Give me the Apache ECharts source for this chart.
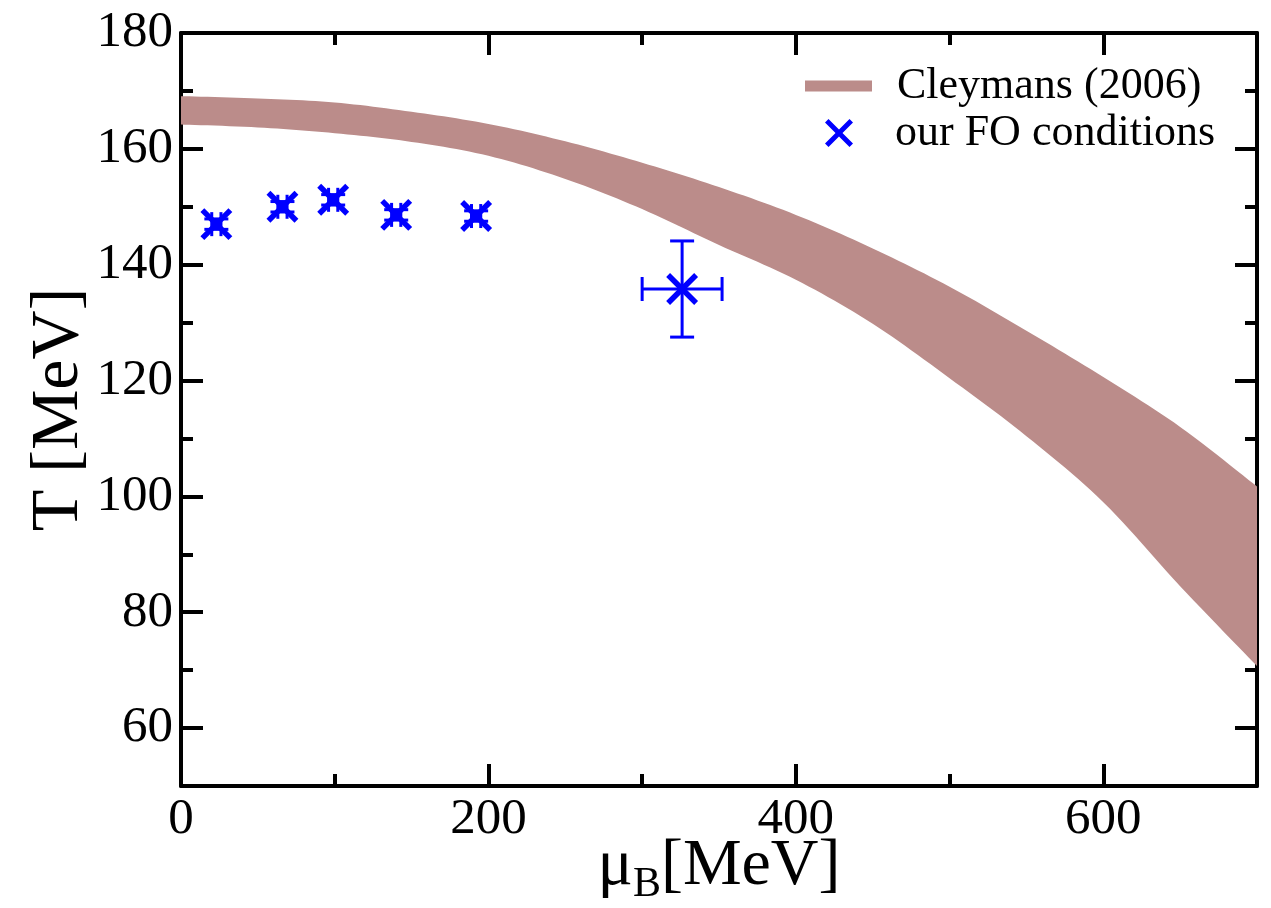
<!DOCTYPE html>
<html>
<head>
<meta charset="utf-8">
<script src="https://cdn.jsdelivr.net/npm/echarts@6/dist/echarts.min.js"></script>
<style>
html,body{margin:0;padding:0;background:#fff;}
#chart{width:1271px;height:908px;}
</style>
</head>
<body>
<div id="chart"></div>
<script>
// ---- data ----
const bandMu    = [0, 50, 100, 150, 200, 250, 300, 350, 400, 450, 500, 550, 600, 650, 700];
const bandUpper = [169.1, 168.7, 168.0, 166.4, 164.3, 161.3, 157.6, 153.4, 148.6, 142.8, 136.2, 128.6, 120.6, 112.0, 101.7];
const bandLower = [164.2, 163.7, 162.7, 161.2, 158.8, 154.8, 149.6, 143.4, 137.4, 129.8, 120.4, 110.4, 99.0, 84.5, 70.7];

const foMu    = [23, 66, 99, 140, 192, 326];
const foT     = [147.0, 150.0, 151.2, 148.6, 148.4, 135.8];
const foMuErr = [3, 3, 3, 3, 3, 26];
const foTErr  = [0.9, 0.9, 0.9, 0.9, 0.9, 8.3];

const xMajorTicks = [0, 200, 400, 600];
const xMinorTicks = [100, 300, 500];
const yMajorTicks = [60, 80, 100, 120, 140, 160, 180];
const yMinorTicks = [50, 70, 90, 110, 130, 150, 170];

const bandName = 'Cleymans (2006)';
const foName = 'our FO conditions';
const bandColor = '#bb8c8a';
const foColor = '#0000ff';
const FONT = "'Liberation Serif', 'Times New Roman', serif";

// ---- axes helpers ----
function xAx(pos, ticks, len, opts) {
  return Object.assign({
    type: 'value', position: pos, min: 0, max: 700, gridIndex: 0,
    axisLine: { show: false, onZero: false },
    axisTick: { show: true, inside: true, length: len, customValues: ticks, lineStyle: { color: '#000', width: 4 } },
    axisLabel: { show: false },
    splitLine: { show: false }
  }, opts || {});
}
function yAx(pos, ticks, len, opts) {
  return Object.assign({
    type: 'value', position: pos, min: 50, max: 180, gridIndex: 0,
    axisLine: { show: false, onZero: false },
    axisTick: { show: true, inside: true, length: len, customValues: ticks, lineStyle: { color: '#000', width: 4 } },
    axisLabel: { show: false },
    splitLine: { show: false }
  }, opts || {});
}

// Catmull-Rom smoothing of pixel points (rendering only)
function smoothPts(pts) {
  const out = [];
  const n = pts.length;
  for (let i = 0; i < n - 1; i++) {
    const p0 = pts[i - 1] || pts[i], p1 = pts[i], p2 = pts[i + 1], p3 = pts[i + 2] || pts[i + 1];
    const steps = 12;
    for (let k = 0; k < steps; k++) {
      const t = k / steps, t2 = t * t, t3 = t2 * t;
      const f = (a, b, c, d) => 0.5 * ((2 * b) + (-a + c) * t + (2 * a - 5 * b + 4 * c - d) * t2 + (-a + 3 * b - 3 * c + d) * t3);
      out.push([f(p0[0], p1[0], p2[0], p3[0]), f(p0[1], p1[1], p2[1], p3[1])]);
    }
  }
  out.push(pts[n - 1]);
  return out;
}

const chart = echarts.init(document.getElementById('chart'), null, { renderer: 'canvas' });

const option = {
  backgroundColor: '#ffffff',
  animation: false,
  grid: { left: 181, right: 14, top: 33, bottom: 122, containLabel: false, outerBoundsMode: 'none' },
  xAxis: [
    xAx('bottom', xMajorTicks.filter(v => v > 0), 22, {
      axisLine: { show: true, onZero: false, lineStyle: { color: '#000', width: 4 } },
      axisLabel: { show: true, customValues: xMajorTicks, margin: 8, color: '#000', fontFamily: FONT, fontSize: 51 },
      name: '{mu|μ}{sub|B}{mu|[MeV]}',
      nameLocation: 'middle',
      nameMoveOverlap: false,
      nameGap: 48,
      nameTextStyle: {
        fontFamily: FONT, fontSize: 66, color: '#000',
        rich: {
          mu: { fontFamily: FONT, fontSize: 66, color: '#000' },
          sub: { fontFamily: FONT, fontSize: 42, color: '#000', verticalAlign: 'bottom', padding: [0, 0, -6, 0] }
        }
      }
    }),
    xAx('bottom', xMinorTicks, 12),
    xAx('top', xMajorTicks.filter(v => v > 0), 22, {
      axisLine: { show: true, onZero: false, lineStyle: { color: '#000', width: 4 } }
    }),
    xAx('top', xMinorTicks, 12)
  ],
  yAxis: [
    yAx('left', yMajorTicks.filter(v => v < 180), 22, {
      axisLine: { show: true, onZero: false, lineStyle: { color: '#000', width: 4 } },
      axisLabel: { show: true, customValues: yMajorTicks, margin: 8, color: '#000', fontFamily: FONT, fontSize: 51 },
      name: 'T [MeV]',
      nameLocation: 'middle',
      nameMoveOverlap: false,
      nameGap: 88,
      nameTextStyle: { fontFamily: FONT, fontSize: 68, color: '#000' }
    }),
    yAx('left', yMinorTicks, 12),
    yAx('right', yMajorTicks.filter(v => v < 180), 22, {
      axisLine: { show: true, onZero: false, lineStyle: { color: '#000', width: 4 } }
    }),
    yAx('right', yMinorTicks, 12)
  ],
  legend: [
    {
      data: [{ name: bandName, icon: 'rect' }],
      left: 800, top: 57,
      itemWidth: 67, itemHeight: 11,
      selectedMode: false,
      textStyle: { fontFamily: FONT, fontSize: 44, color: '#000', lineHeight: 48, padding: [0, 0, 0, 20] }
    },
    {
      data: [{ name: foName, icon: 'path://M0,3 L3,0 L12,9 L21,0 L24,3 L15,12 L24,21 L21,24 L12,15 L3,24 L0,21 L9,12 Z' }],
      left: 820, top: 104,
      itemWidth: 28, itemHeight: 28,
      selectedMode: false,
      textStyle: { fontFamily: FONT, fontSize: 44, color: '#000', lineHeight: 48, padding: [0, 0, 0, 37] }
    }
  ],
  series: [
    {
      name: bandName,
      type: 'custom',
      xAxisIndex: 0, yAxisIndex: 0,
      itemStyle: { color: bandColor },
      data: bandMu.map((m, i) => [m, bandUpper[i], bandLower[i]]),
      encode: { x: 0, y: [1, 2] },
      z: 1,
      renderItem: function (params, api) {
        if (params.dataIndex !== 0) return null;
        const up = [], lo = [];
        for (let i = 0; i < bandMu.length; i++) up.push(api.coord([bandMu[i], bandUpper[i]]));
        for (let i = bandMu.length - 1; i >= 0; i--) lo.push(api.coord([bandMu[i], bandLower[i]]));
        const pts = smoothPts(up).concat(smoothPts(lo));
        return { type: 'polygon', shape: { points: pts }, style: { fill: bandColor } };
      }
    },
    {
      name: foName,
      type: 'custom',
      xAxisIndex: 0, yAxisIndex: 0,
      itemStyle: { color: foColor },
      data: foMu.map((m, i) => [m, foT[i], foMuErr[i], foTErr[i]]),
      encode: { x: 0, y: 1 },
      z: 3,
      renderItem: function (params, api) {
        const mu = api.value(0), t = api.value(1), dm = api.value(2), dt = api.value(3);
        const c = api.coord([mu, t]);
        const l = api.coord([mu - dm, t]);
        const r = api.coord([mu + dm, t]);
        const top = api.coord([mu, t + dt]);
        const bot = api.coord([mu, t - dt]);
        const s = 14, cap = 12;
        const st = { stroke: foColor, lineWidth: 3, fill: null };
        return {
          type: 'group',
          children: [
            { type: 'line', shape: { x1: l[0], y1: l[1], x2: r[0], y2: r[1] }, style: st },
            { type: 'line', shape: { x1: top[0], y1: top[1], x2: bot[0], y2: bot[1] }, style: st },
            { type: 'line', shape: { x1: l[0], y1: l[1] - cap, x2: l[0], y2: l[1] + cap }, style: st },
            { type: 'line', shape: { x1: r[0], y1: r[1] - cap, x2: r[0], y2: r[1] + cap }, style: st },
            { type: 'line', shape: { x1: top[0] - cap, y1: top[1], x2: top[0] + cap, y2: top[1] }, style: st },
            { type: 'line', shape: { x1: bot[0] - cap, y1: bot[1], x2: bot[0] + cap, y2: bot[1] }, style: st },
            { type: 'line', shape: { x1: c[0] - s, y1: c[1] - s, x2: c[0] + s, y2: c[1] + s }, style: { stroke: foColor, lineWidth: 5.5 } },
            { type: 'line', shape: { x1: c[0] - s, y1: c[1] + s, x2: c[0] + s, y2: c[1] - s }, style: { stroke: foColor, lineWidth: 5.5 } }
          ]
        };
      }
    }
  ]
};
chart.setOption(option);
</script>
</body>
</html>
